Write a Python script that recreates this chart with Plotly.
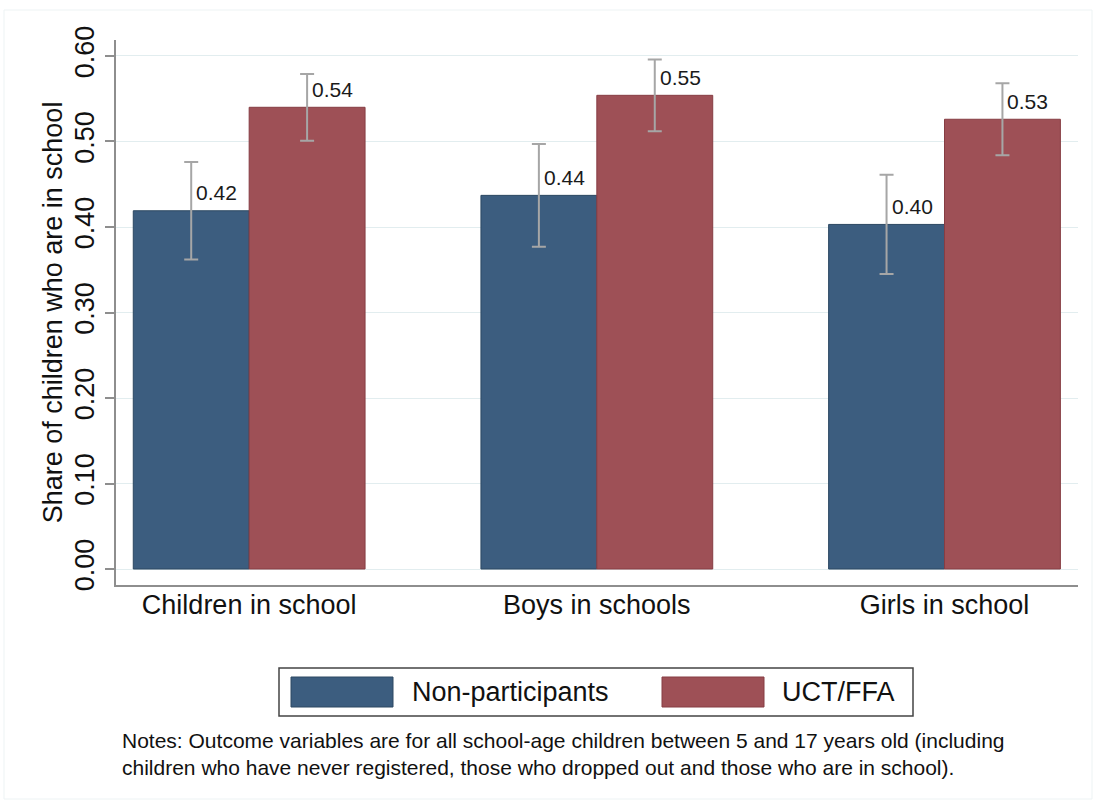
import plotly.graph_objects as go

# ---- data ----
categories = ["Children in school", "Boys in schools", "Girls in school"]
non_participants = [0.419, 0.437, 0.403]
non_participants_err = [0.057, 0.060, 0.058]
uct_ffa = [0.540, 0.554, 0.526]
uct_ffa_err = [0.039, 0.042, 0.042]
series_names = ["Non-participants", "UCT/FFA"]
y_ticks = [0.0, 0.1, 0.2, 0.3, 0.4, 0.5, 0.6]
notes = [
    "Notes: Outcome variables are for all school-age children between 5 and 17 years old (including",
    "children who have never registered, those who dropped out and those who are in school).",
]

# ---- style ----
FONT = "Liberation Sans, Arial, Helvetica, sans-serif"
BLUE = "#3c5d7f"
BLUE_EDGE = "#2c4862"
RED = "#9e5056"
RED_EDGE = "#863d43"
ERR = "#a6a6a6"
AXIS = "#8e8e8e"
GRID = "#e2edef"

W, H = 1094, 801
L, R, T, B = 116, 16, 40, 216
PW, PH = W - L - R, H - T - B

def px(x):
    return (x - L) / PW

def py(y):
    return (H - B - y) / PH

x_idx = list(range(len(categories)))

fig = go.Figure()
fig.add_trace(go.Bar(
    x=x_idx, y=non_participants, name=series_names[0],
    marker=dict(color=BLUE, line=dict(color=BLUE_EDGE, width=1)),
    error_y=dict(type="data", array=non_participants_err, color=ERR, thickness=2, width=7),
))
fig.add_trace(go.Bar(
    x=x_idx, y=uct_ffa, name=series_names[1],
    marker=dict(color=RED, line=dict(color=RED_EDGE, width=1)),
    error_y=dict(type="data", array=uct_ffa_err, color=ERR, thickness=2, width=7),
))

annotations = []
for vals, off in ((non_participants, -1 / 6), (uct_ffa, 1 / 6)):
    for i, v in zip(x_idx, vals):
        annotations.append(dict(
            x=i + off, y=v, xref="x", yref="y", text=f"{v:.2f}",
            showarrow=False, xanchor="left", yanchor="middle",
            xshift=3, yshift=18, font=dict(family=FONT, size=21, color="#1a1a1a"),
        ))

# custom legend (wide swatches like the original)
shapes = [
    dict(type="rect", xref="paper", yref="paper", x0=px(279), x1=px(913), y0=py(668), y1=py(716),
         line=dict(color="#444444", width=1.5), fillcolor="white"),
    dict(type="rect", xref="paper", yref="paper", x0=px(291), x1=px(393), y0=py(677), y1=py(707),
         line=dict(color=BLUE_EDGE, width=1), fillcolor=BLUE),
    dict(type="rect", xref="paper", yref="paper", x0=px(662), x1=px(764), y0=py(677), y1=py(707),
         line=dict(color=RED_EDGE, width=1), fillcolor=RED),
    # faint outer graph region outline
    dict(type="rect", xref="paper", yref="paper", x0=px(4), x1=px(1092), y0=py(10), y1=py(799),
         line=dict(color="#edf3f4", width=1)),
]
annotations.append(dict(x=px(410), y=py(692), xref="paper", yref="paper", text=series_names[0],
                        showarrow=False, xanchor="left", yanchor="middle",
                        font=dict(family=FONT, size=27, color="#111111")))
annotations.append(dict(x=px(780), y=py(692), xref="paper", yref="paper", text=series_names[1],
                        showarrow=False, xanchor="left", yanchor="middle",
                        font=dict(family=FONT, size=27, color="#111111")))
annotations.append(dict(x=px(120), y=py(754), xref="paper", yref="paper", text="<br>".join(notes),
                        showarrow=False, xanchor="left", yanchor="middle", align="left",
                        font=dict(family=FONT, size=21, color="#111111")))

fig.update_layout(
    width=W, height=H, autosize=False,
    margin=dict(l=L, r=R, t=T, b=B),
    paper_bgcolor="white", plot_bgcolor="white",
    barmode="group", bargap=1 / 3, bargroupgap=0,
    showlegend=False,
    font=dict(family=FONT, size=27, color="#111111"),
    shapes=shapes, annotations=annotations,
)
fig.update_xaxes(
    range=[-0.383, 2.384], tickvals=x_idx, ticktext=categories,
    showline=True, linecolor=AXIS, linewidth=2, showgrid=False, zeroline=False,
    ticks="", ticklabelstandoff=-5, tickfont=dict(family=FONT, size=27, color="#111111"),
)
fig.update_yaxes(
    range=[-0.0187, 0.6187], tickvals=y_ticks, ticktext=[f"{t:.2f}" for t in y_ticks],
    tickangle=-90, ticks="outside", ticklen=9, tickcolor=AXIS, tickwidth=1.5,
    showline=True, linecolor=AXIS, linewidth=2, showgrid=True, gridcolor=GRID, gridwidth=1,
    zeroline=False, tickfont=dict(family=FONT, size=27, color="#111111"),
    title=dict(text="Share of children who are in school", font=dict(family=FONT, size=27, color="#111111"),
               standoff=0),
)

fig.write_html("out.html")
